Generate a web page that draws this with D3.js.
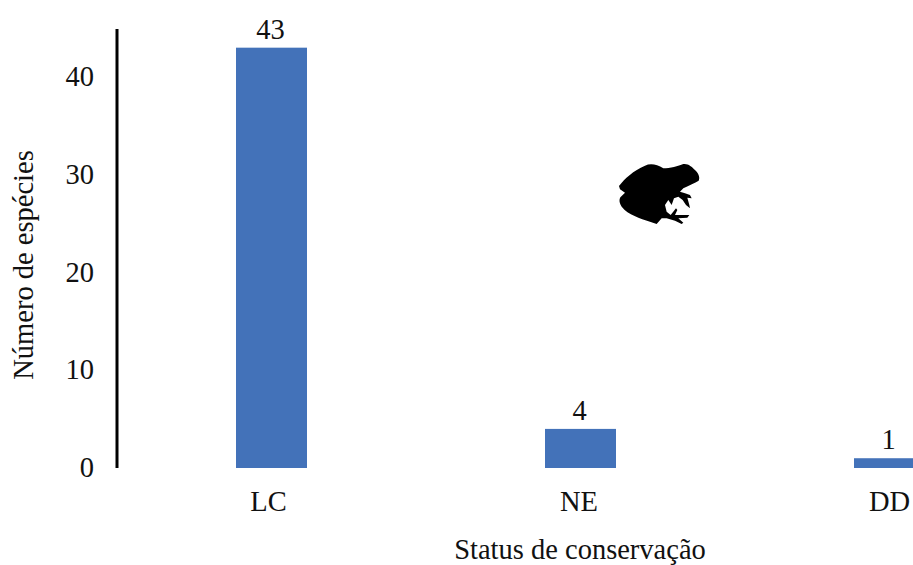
<!DOCTYPE html>
<html><head><meta charset="utf-8">
<script src="https://cdn.jsdelivr.net/npm/d3@7/dist/d3.min.js"></script>
<style>html,body{margin:0;padding:0;background:#fff;overflow:hidden}text{font-family:"Liberation Serif",serif;fill:#111}</style>
</head><body><svg id="c" width="913" height="565"></svg>
<script>
const categories=["LC","NE","DD"];
const values=[43,4,1];
const yTicks=[0,10,20,30,40];
const svg=d3.select("#c");
const y=d3.scaleLinear().domain([0,40]).range([468,77]);
const x=d3.scalePoint().domain(categories).range([271.5,889.5]);
const xLabel=d3.scalePoint().domain(categories).range([268.5,889.5]);
const barW=71;
const fs=28.5;
svg.append("g").selectAll("rect").data(values).join("rect")
 .attr("x",(d,i)=>x(categories[i])-barW/2).attr("width",barW)
 .attr("y",d=>y(d)).attr("height",d=>y(0)-y(d)).attr("fill","#4372b9");
svg.append("line").attr("x1",117).attr("x2",117).attr("y1",29).attr("y2",468).attr("stroke","#000").attr("stroke-width",3);
svg.append("g").selectAll("text").data(yTicks).join("text")
 .attr("x",94).attr("y",d=>y(d)+9).attr("text-anchor","end").attr("font-size",fs).text(d=>d);
svg.append("g").selectAll("text").data(values).join("text")
 .attr("x",(d,i)=>x(categories[i])-1).attr("y",d=>y(d)-9).attr("text-anchor","middle").attr("font-size",fs).text(d=>d);
svg.append("g").selectAll("text").data(categories).join("text")
 .attr("x",d=>xLabel(d)).attr("y",511).attr("text-anchor","middle").attr("font-size",fs).text(d=>d);
svg.append("text").attr("x",580).attr("y",559).attr("text-anchor","middle").attr("font-size",fs).text("Status de conservação");
svg.append("text").attr("transform","translate(33,265) rotate(-90)").attr("text-anchor","middle").attr("font-size",fs).text("Número de espécies");
// frog silhouette
svg.append("path").attr("fill","#000").attr("transform","translate(600,150) scale(0.3333)")
 .attr("d","M57 108C75 85 100 62 135 47C150 40 170 42 190 55C210 55 235 48 250 42C265 40 275 50 285 60C298 72 300 85 296 92C285 100 268 105 250 115L240 125L255 130L270 135L275 145L262 143L268 165L270 175L258 165L248 150L235 140L222 145L215 165L205 150L195 165L200 185L212 195L228 175L232 180L225 195L268 195L262 203L235 205L250 218L245 222L225 212L200 205L185 205L170 222L150 215C120 205 85 195 65 170C55 155 58 142 65 138L75 128L60 118Z M150 172L165 168L170 190L158 192Z");
</script></body></html>
